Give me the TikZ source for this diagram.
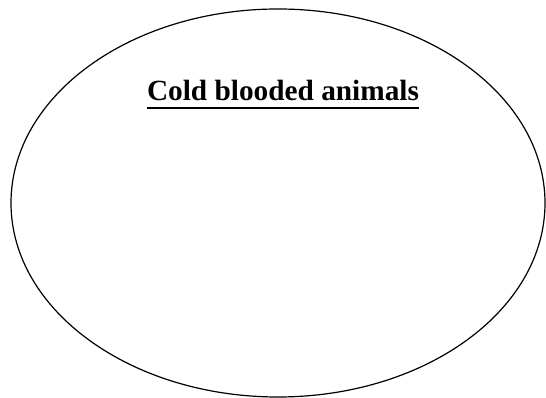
\documentclass[tikz,border=0pt]{standalone}
\usepackage{fontspec}
\setmainfont{Liberation Serif}
\begin{document}
\begin{tikzpicture}[x=1pt,y=1pt,
  outline/.style={draw=black,line width=1.2pt},
  title/.style={font=\fontsize{29.3}{35}\selectfont\bfseries,inner sep=0pt,anchor=base}]
\useasboundingbox (0,0) rectangle (546,398);
\draw[outline] (278,195) ellipse [x radius=267, y radius=194];
\node[title] (t) at (283,297) {Cold blooded animals};
\coordinate (ul) at ([yshift=-7pt]t.base west);
\coordinate (ur) at ([yshift=-7pt]t.base east);
\draw[line width=2pt] (ul) -- (ur);
\end{tikzpicture}
\end{document}
